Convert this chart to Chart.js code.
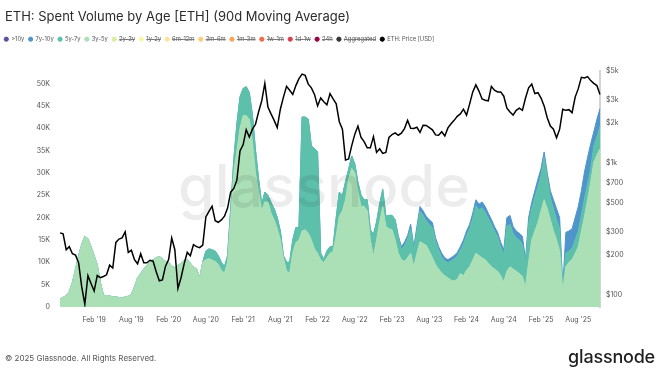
<!DOCTYPE html>
<html>
<head>
<meta charset="utf-8">
<script src="https://cdn.jsdelivr.net/npm/chart.js@4.4.1/dist/chart.umd.min.js"></script>
<style>
  html, body { margin: 0; padding: 0; background: #fff; }
  body { width: 661px; height: 376px; position: relative; overflow: hidden; font-family: Inter, Roboto, "DejaVu Sans", sans-serif; }
  #wrap { position: absolute; left: 0; top: 0; width: 661px; height: 376px; }
  .title { position: absolute; left: 5px; top: 8px; font-size: 13px; color: #2b2b2b; white-space: nowrap; }
  .copy { position: absolute; left: 5px; top: 353px; font-size: 8px; color: #555; white-space: nowrap; }
  .logo { position: absolute; right: 6px; top: 346px; font-size: 18px; font-weight: 500; color: #1f1f1f; letter-spacing: -0.2px; }
</style>
</head>
<body>
<div id="wrap"><canvas id="chart"></canvas></div>
<div class="title">ETH: Spent Volume by Age [ETH] (90d Moving Average)</div>
<div class="copy">© 2025 Glassnode. All Rights Reserved.</div>
<div class="logo">glassnode</div>
<script>
// semi-monthly samples, 2018-08-16 .. 2025-11-16
const dates = [];
for (let y = 2018; y <= 2025; y++) {
    for (let m = 1; m <= 12; m++) {
        for (const d of ['01', '16']) {
            const s = y + '-' + String(m).padStart(2, '0') + '-' + d;
            if (s >= '2018-08-16' && s <= '2025-11-16') dates.push(s);
        }
    }
}

// spent volume, thousands of ETH (90d MA)
const vol3y5y = [
    1.8, 2.2, 2.5, 3.5, 5.5, 8.5, 11.5, 14, 15.8, 15.3,
    13.5, 11.5, 9.5, 5.5, 2.7, 2.4, 2.5, 2.2, 2.3, 2.1,
    2.0, 2.3, 2.4, 2.8, 4.5, 6.5, 7.5, 8.5, 9.3, 10,
    10.6, 11, 11.3, 10.8, 10.2, 10, 9.2, 8.8, 9.3, 9.8,
    10.4, 10.6, 9.8, 9, 8.5, 6.5, 10, 10.6, 10.8, 10.5,
    10.2, 9.5, 8.2, 7.6, 10, 20, 30, 35, 40, 42.8,
    42.8, 42, 37, 30, 25.7, 21.5, 23.5, 23.5, 21, 19.5,
    17.5, 15, 11, 8, 7.6, 12, 14.4, 15, 17, 17.3,
    16.5, 15, 13, 12, 10.5, 9.9, 11, 12, 12.4, 16,
    20.3, 21.5, 24, 28.6, 31, 30, 25.7, 22.5, 22.5, 21.5,
    15, 11.3, 15, 19, 22.5, 18, 17.5, 17.3, 15, 12,
    10.6, 10.2, 11, 12, 9, 12, 14.6, 14.2, 13.8, 12.5,
    11, 9.5, 8.5, 7.6, 7, 6.5, 6, 5.8, 6.2, 7.5,
    7, 8.2, 9, 10.5, 12, 11.5, 11, 10.6, 9.8, 9,
    8.5, 8, 7, 5.6, 8, 9, 8.5, 8, 7.5, 6.8,
    4.5, 10, 15, 17, 18.9, 21.5, 24, 22, 19.5, 17,
    15, 12.5, 3.8, 9, 10, 10.6, 12, 13.5, 17, 20.3,
    24, 28, 32.4, 34, 35.4
];
const vol5y7y = [
    0, 0, 0, 0, 0, 0, 0, 0, 0, 0,
    0, 0, 0, 0, 0, 0, 0, 0, 0, 0,
    0, 0, 0, 0, 0, 0, 0, 0, 0, 0,
    0, 0, 0, 0, 0, 0, 0, 0, 0, 0,
    0, 0, 0, 0, 0, 0, 0, 1.9, 2.2, 2.3,
    2.3, 2, 1.8, 1.4, 1.5, 2, 3, 6, 7, 6.1,
    6.5, 6, 6, 5, 2.9, 1.5, 2.2, 1.5, 2.4, 2.5,
    2.5, 2, 0.5, 2, 2.4, 3, 3.4, 2.8, 25.5, 25.2,
    25.5, 21, 22.5, 22.7, 1.5, 0.8, 1.5, 1.5, 1.1, 4,
    5.4, 3.5, 4, 2.2, 2.8, 2, 2.2, 2.5, 1.5, 2.5,
    2.3, 4.9, 4, 4, 3.8, 2.3, 3, 3.2, 4.5, 3.5,
    2.2, 3.5, 4.2, 5.5, 3.8, 5, 6.8, 6.3, 5.5, 6,
    6.8, 5.2, 4.2, 3.6, 3.3, 3.4, 4.3, 5, 5.2, 5.2,
    7, 7.8, 8.5, 9.3, 10.7, 10.2, 11.2, 10.6, 10, 9.5,
    8.5, 7.7, 6.5, 6, 10, 9.5, 8, 7.5, 7.5, 7.2,
    5, 8.5, 7, 7.5, 8, 8, 9.5, 7, 5, 5,
    4.5, 5, 0.5, 3, 2.5, 2.5, 3, 3.5, 3.5, 4,
    3.5, 3, 3.6, 4, 5.1
];
const vol7y10y = [
    0, 0, 0, 0, 0, 0, 0, 0, 0, 0,
    0, 0, 0, 0, 0, 0, 0, 0, 0, 0,
    0, 0, 0, 0, 0, 0, 0, 0, 0, 0,
    0, 0, 0, 0, 0, 0, 0, 0, 0, 0,
    0, 0, 0, 0, 0, 0, 0, 0, 0, 0,
    0, 0, 0, 0, 0, 0, 0, 0, 0, 0,
    0, 0, 0, 0, 0, 0, 0, 0, 0, 0,
    0, 0, 0, 0, 0, 0, 0, 0, 0, 0,
    0, 0, 0, 0, 0, 0, 0, 0, 0, 0,
    0, 0, 0, 0, 0, 0, 0, 0, 0, 0,
    0, 0, 0, 0, 0, 0, 0, 0, 0, 0.5,
    0.7, 0.8, 0.8, 1, 0.7, 1, 1.1, 1, 1, 1,
    1.1, 0.8, 0.8, 0.8, 0.7, 0.7, 0.7, 0.7, 0.8, 0.8,
    1, 1, 1, 1.2, 1.3, 1.3, 1.3, 1.3, 1.2, 1.1,
    1, 1, 1, 1.2, 2, 2, 1.5, 1.5, 1.5, 1.8,
    1.1, 1.5, 1.4, 1.5, 1.7, 1.5, 1.2, 1, 1.5, 2,
    2.5, 2.5, 0.2, 4.7, 4.5, 4.4, 5, 5.5, 5.5, 5.9,
    6, 5.5, 3.2, 4, 3.9
];
// >10y is not visible at this scale
const vol10yPlus = [];

// ETH price in USD
const ethPrice = [
    295, 290, 220, 232, 205, 200, 175, 115, 85, 140,
    122, 107, 140, 135, 138, 142, 168, 160, 250, 265,
    270, 300, 210, 218, 185, 172, 205, 175, 175, 183,
    180, 150, 128, 130, 165, 185, 270, 220, 112, 135,
    172, 210, 198, 240, 232, 228, 238, 390, 430, 470,
    365, 355, 370, 395, 455, 600, 640, 740, 1230, 1370,
    1780, 1570, 1800, 1960, 2440, 2950, 4000, 2650, 2350, 2100,
    1850, 2550, 3150, 3800, 3550, 3300, 3850, 4350, 4700, 4600,
    3950, 3700, 3300, 2700, 3100, 2900, 2750, 3350, 3050, 2800,
    2050, 1800, 1050, 1070, 1350, 1650, 1900, 1560, 1450, 1300,
    1300, 1580, 1200, 1280, 1180, 1200, 1560, 1640, 1690, 1620,
    1680, 1820, 2100, 1830, 1820, 1860, 1700, 1930, 1920, 1850,
    1780, 1630, 1620, 1720, 1600, 1840, 1980, 2100, 2250, 2350,
    2550, 2300, 2800, 3450, 3900, 3500, 3050, 2980, 2950, 3800,
    3550, 3450, 3450, 3200, 2600, 2430, 2300, 2500, 2600, 2500,
    3100, 3700, 3950, 3350, 3400, 3100, 2700, 2200, 1900, 1800,
    1550, 1800, 2550, 2500, 2530, 2400, 3150, 3650, 4450, 4400,
    4500, 4200, 4000, 3850, 3300
];

const volumeTicks = [0, 5, 10, 15, 20, 25, 30, 35, 40, 45, 50];
const priceTicks = [100, 200, 300, 500, 700, 1000, 2000, 3000, 5000];
const months = ['Jan', 'Feb', 'Mar', 'Apr', 'May', 'Jun', 'Jul', 'Aug', 'Sep', 'Oct', 'Nov', 'Dec'];

const legendOrder = ['>10y', '7y-10y', '5y-7y', '3y-5y', '2y-3y', '1y-2y', '6m-12m', '3m-6m',
    '1m-3m', '1w-1m', '1d-1w', '24h', 'Aggregated', 'ETH: Price [USD]'];

function tickText(d) {
    if (!d) return '';
    const [y, m, day] = d.split('-');
    if (day !== '01' || (m !== '02' && m !== '08') || y < '2019') return '';
    return months[+m - 1] + " '" + y.slice(2);
}

function area(label, data, color, fill) {
    return {
        label: label, data: data, yAxisID: 'y',
        backgroundColor: color, borderColor: color, borderWidth: 1,
        pointRadius: 0, tension: 0, fill: fill
    };
}
function hiddenSeries(label, color) {
    return { label: label, data: [], yAxisID: 'y', backgroundColor: color, borderColor: color,
        borderWidth: 1, pointRadius: 0, hidden: true };
}

// push chart area down below the legend
const legendGap = {
    id: 'legendGap',
    beforeInit(chart) {
        const fit = chart.legend.fit;
        chart.legend.fit = function() {
            fit.bind(chart.legend)();
            this.height += 18.5;
        };
    }
};

// thin strike-through for switched-off series (the built-in one is 2px)
const legendStrike = {
    id: 'legendStrike',
    afterDraw(chart) {
        const lg = chart.legend;
        const opts = lg.options.labels;
        const ctx = chart.ctx;
        ctx.save();
        ctx.strokeStyle = '#666';
        ctx.lineWidth = 0.8;
        lg.legendItems.forEach((item, i) => {
            if (!item.struck) return;
            const hb = lg.legendHitBoxes[i];
            const x0 = hb.left + opts.boxWidth + opts.font.size / 2;
            const y = Math.round(hb.top + hb.height / 2) + 0.5;
            ctx.beginPath();
            ctx.moveTo(x0, y);
            ctx.lineTo(hb.left + hb.width, y);
            ctx.stroke();
        });
        ctx.restore();
    }
};

const watermark = {
    id: 'watermark',
    afterDatasetsDraw(chart) {
        const ctx = chart.ctx;
        ctx.save();
        ctx.font = '500 100px Inter, Roboto, sans-serif';
        const w = ctx.measureText('glassnode').width;
        const size = 100 * 292 / w;
        ctx.font = '500 ' + size + 'px Inter, Roboto, sans-serif';
        ctx.fillStyle = 'rgba(0, 0, 0, 0.075)';
        ctx.textBaseline = 'alphabetic';
        ctx.fillText('glassnode', 178, 207);
        ctx.restore();
    }
};

Chart.defaults.font.family = 'Inter, Roboto, sans-serif';
Chart.defaults.color = '#555';

new Chart(document.getElementById('chart'), {
    type: 'line',
    data: {
        labels: dates,
        datasets: [
            {
                label: 'ETH: Price [USD]', data: ethPrice, yAxisID: 'price',
                borderColor: '#000', backgroundColor: '#000', borderWidth: 1.5,
                pointRadius: 0, tension: 0, fill: false
            },
            area('3y-5y', vol3y5y.map(v => v * 1000), '#abdfb6', 'origin'),
            area('5y-7y', vol5y7y.map(v => v * 1000), '#5dc0ab', '-1'),
            area('7y-10y', vol7y10y.map(v => v * 1000), '#4f95cb', '-1'),
            area('>10y', vol10yPlus, '#5e4fa2', '-1'),
            hiddenSeries('2y-3y', '#d6ee9b'),
            hiddenSeries('1y-2y', '#f6f7a8'),
            hiddenSeries('6m-12m', '#fee49a'),
            hiddenSeries('3m-6m', '#fdcb7c'),
            hiddenSeries('1m-3m', '#f9a25b'),
            hiddenSeries('1w-1m', '#f06c47'),
            hiddenSeries('1d-1w', '#d8414f'),
            hiddenSeries('24h', '#9e0142'),
            hiddenSeries('Aggregated', '#333')
        ]
    },
    options: {
        responsive: true,
        maintainAspectRatio: false,
        animation: false,
        layout: { padding: { top: 32, bottom: 47, left: 0, right: 0 } },
        plugins: {
            tooltip: { enabled: false },
            legend: {
                position: 'top',
                align: 'start',
                labels: {
                    usePointStyle: true,
                    pointStyle: 'circle',
                    boxWidth: 4,
                    boxHeight: 3,
                    padding: 4.3,
                    color: '#555',
                    font: { size: 5.8 },
                    sort: (a, b) => legendOrder.indexOf(a.text) - legendOrder.indexOf(b.text),
                    generateLabels: function(chart) {
                        const items = Chart.defaults.plugins.legend.labels.generateLabels(chart);
                        items.forEach(item => {
                            item.struck = item.hidden;
                            item.hidden = false;
                            item.lineWidth = 1;
                        });
                        return items;
                    }
                }
            }
        },
        scales: {
            x: {
                grid: { display: false, drawTicks: false },
                border: { display: false },
                ticks: {
                    autoSkip: false, maxRotation: 0, padding: 9,
                    font: { size: 7 }, color: '#555',
                    callback: function(value) { return tickText(dates[value]); }
                },
                afterBuildTicks: function(scale) {
                    scale.ticks = scale.ticks.filter(t => tickText(dates[t.value]) !== '');
                },
                afterFit: function(scale) { scale.height = 22; }
            },
            y: {
                position: 'left',
                stacked: true,
                min: 0,
                max: 52900,
                grid: { display: false, drawTicks: false },
                border: { display: false },
                ticks: {
                    padding: 10, font: { size: 7 }, color: '#555',
                    callback: function(value) { return value === 0 ? '0' : (value / 1000) + 'K'; }
                },
                afterBuildTicks: function(scale) {
                    scale.ticks = volumeTicks.map(v => ({ value: v * 1000 }));
                },
                afterFit: function(scale) { scale.width = 60; }
            },
            price: {
                type: 'logarithmic',
                position: 'right',
                min: 81,
                max: 5000,
                grid: { display: false, drawTicks: false },
                border: { display: true, color: '#d4d4d4', width: 2 },
                ticks: {
                    padding: 6, font: { size: 7 }, color: '#555',
                    callback: function(value) { return value >= 1000 ? '$' + (value / 1000) + 'k' : '$' + value; }
                },
                afterBuildTicks: function(scale) {
                    scale.ticks = priceTicks.map(v => ({ value: v }));
                },
                afterFit: function(scale) { scale.width = 61; }
            }
        }
    },
    plugins: [legendGap, legendStrike, watermark]
});
</script>
</body>
</html>
